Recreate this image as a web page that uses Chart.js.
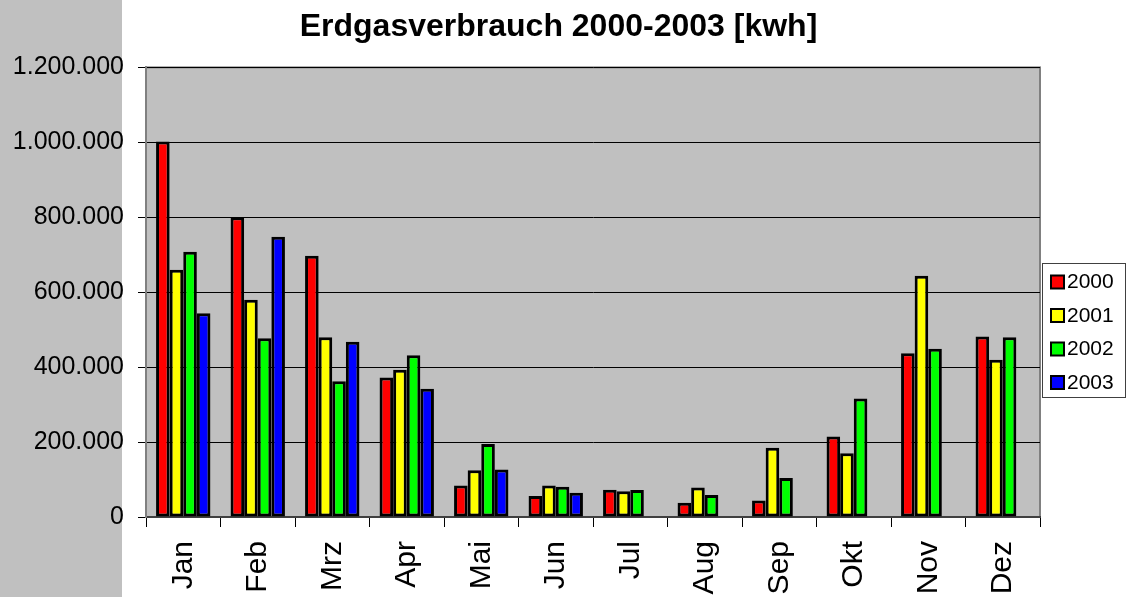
<!DOCTYPE html>
<html>
<head>
<meta charset="utf-8">
<script src="https://cdn.jsdelivr.net/npm/chart.js@4"></script>
<style>
  body { margin: 0; background: #fff; overflow: hidden; }
</style>
</head>
<body>
<canvas id="gasChart" width="1127" height="597"></canvas>
<script>
// === Daten
const monate = ["Jan", "Feb", "Mrz", "Apr", "Mai", "Jun", "Jul", "Aug", "Sep", "Okt", "Nov", "Dez"];
const jahre = ["2000", "2001", "2002", "2003"];
const werte2000 = [1002000, 800000, 697000, 372000, 84000, 56000, 73000, 38000, 44000, 215000, 437000, 482000];
const werte2001 = [660000, 580000, 480000, 393000, 125000, 84000, 69000, 79000, 185000, 170000, 644000, 420000];
const werte2002 = [708000, 477000, 362000, 432000, 195000, 81000, 72000, 59000, 104000, 316000, 449000, 480000];
const werte2003 = [544000, 748000, 468000, 342000, 127000, 65000, null, null, null, null, null, null];
const farben = ["#ff0000", "#ffff00", "#00ff00", "#0000ff"];
const yTicks = [0, 200000, 400000, 600000, 800000, 1000000, 1200000];

const FONT = "'Liberation Sans', Arial, sans-serif";

// Tausenderpunkt wie im Original
function formatZahl(v) {
  return String(v).replace(/\B(?=(\d{3})+(?!\d))/g, ".");
}

// === Hintergrund, Plotfläche und Legende
const hintergrund = {
  id: "hintergrund",
  beforeDraw(chart) {
    const ctx = chart.ctx;
    const a = chart.chartArea;
    ctx.save();
    ctx.fillStyle = "#c0c0c0";
    ctx.fillRect(0, 0, 122, chart.height);
    ctx.fillRect(a.left, a.top, a.right - a.left, a.bottom - a.top);
    ctx.strokeStyle = "#808080";
    ctx.lineWidth = 2;
    ctx.strokeRect(a.left, a.top, a.right - a.left, a.bottom - a.top);
    ctx.restore();
  },
  afterDraw(chart) {
    const ctx = chart.ctx;
    ctx.save();
    ctx.fillStyle = "#fff";
    ctx.fillRect(1042, 263, 84, 135);
    ctx.strokeStyle = "#404040";
    ctx.lineWidth = 1;
    ctx.strokeRect(1042.5, 263.5, 83, 134);
    ctx.font = "21px " + FONT;
    ctx.textBaseline = "middle";
    chart.data.datasets.forEach((ds, i) => {
      const y = 281.5 + i * 33.5;
      ctx.fillStyle = ds.backgroundColor;
      ctx.fillRect(1051, y - 6, 13, 13);
      ctx.strokeStyle = "#000";
      ctx.lineWidth = 2;
      ctx.strokeRect(1051, y - 6, 13, 13);
      ctx.fillStyle = "#000";
      ctx.fillText(ds.label, 1067, y + 1);
    });
    ctx.restore();
  },
};

const datenreihen = [werte2000, werte2001, werte2002, werte2003];

new Chart(document.getElementById("gasChart"), {
  type: "bar",
  data: {
    labels: monate,
    datasets: jahre.map((j, i) => ({
      label: j,
      data: datenreihen[i],
      backgroundColor: farben[i],
      borderColor: "#000",
      borderWidth: 3,
      borderSkipped: false,
      categoryPercentage: 0.73,
      barPercentage: 1.0,
    })),
  },
  options: {
    responsive: false,
    animation: false,
    layout: { padding: { left: 0, right: 10, top: 0, bottom: 0 } },
    plugins: {
      legend: { display: false },
      tooltip: { enabled: false },
      title: {
        display: true,
        text: "Erdgasverbrauch 2000-2003 [kwh]",
        color: "#000",
        font: { family: FONT, size: 32, weight: "bold" },
        padding: { top: 8, bottom: 21 },
      },
    },
    scales: {
      x: {
        grid: { offset: true, drawOnChartArea: false, tickLength: 10, color: "#000" },
        border: { color: "#404040", width: 2 },
        ticks: {
          color: "#000",
          font: { family: FONT, size: 30 },
          minRotation: 90,
          maxRotation: 90,
          autoSkip: false,
          padding: 14,
        },
        afterFit(scale) { scale.height = 80; },
      },
      y: {
        min: 0,
        max: 1200000,
        afterBuildTicks(scale) { scale.ticks = yTicks.map((v) => ({ value: v })); },
        grid: { color: "#000", lineWidth: 1, tickLength: 8 },
        border: { color: "#808080", width: 2 },
        ticks: {
          color: "#000",
          font: { family: FONT, size: 25 },
          padding: 14,
          callback: (v) => formatZahl(v),
        },
        afterFit(scale) { scale.width = 146; },
      },
      // leerer Platz rechts für die Legende
      rechts: {
        position: "right",
        display: true,
        grid: { display: false },
        border: { display: false },
        ticks: { display: false },
        afterFit(scale) { scale.width = 77; },
      },
    },
  },
  plugins: [hintergrund],
});
</script>
</body>
</html>
